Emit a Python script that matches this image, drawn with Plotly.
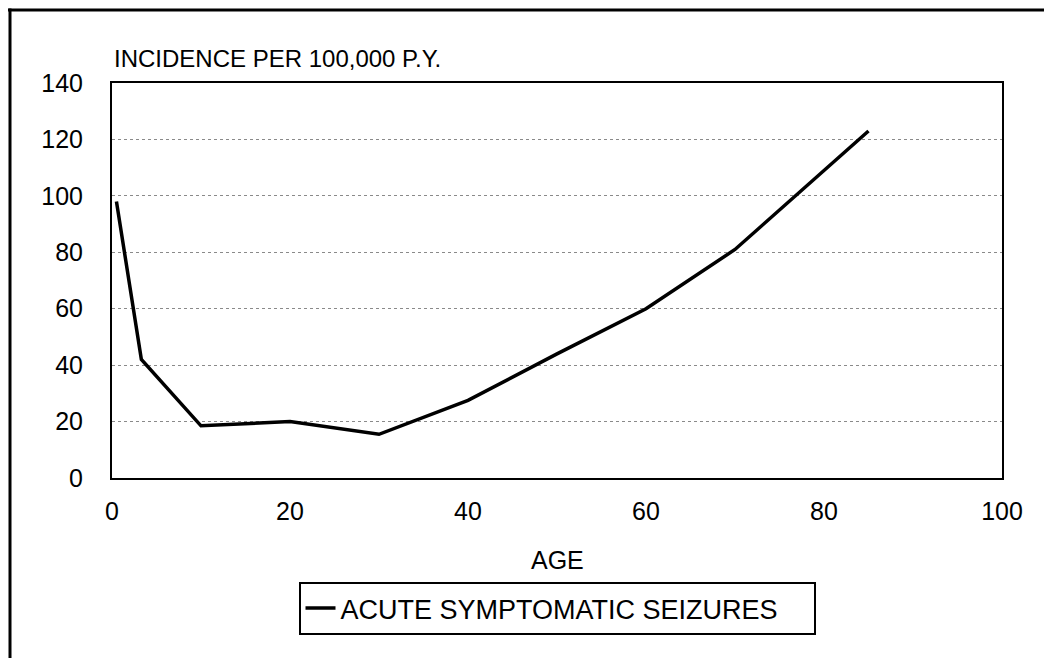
import plotly.graph_objects as go

ages = [0.5, 3.3, 10, 20, 30, 40, 50, 60, 70, 85]
incidence = [98, 42, 18.5, 20, 15.5, 27.5, 44, 60, 81, 123]
series_name = "ACUTE SYMPTOMATIC SEIZURES"
x_ticks = [0, 20, 40, 60, 80, 100]
y_ticks = [0, 20, 40, 60, 80, 100, 120, 140]

# page has an 8px body margin; work in page pixels and convert
OFF = 8
W, H = 1052 - OFF, 658 - OFF
L, R, T, B = 112, 1002, 83, 478  # plot area in page pixels
pw, ph = R - L, B - T

def px(x):
    return (x - L) / pw

def py(y):
    return (B - y) / ph

FONT = "Liberation Sans, Arial, sans-serif"

fig = go.Figure()
fig.add_trace(go.Scatter(
    x=ages, y=incidence, mode="lines", name=series_name,
    line=dict(color="black", width=3.5),
    showlegend=True,
))

fig.update_layout(
    width=W, height=H,
    margin=dict(l=L - OFF, r=1052 - R, t=T - OFF, b=658 - B),
    paper_bgcolor="white", plot_bgcolor="white",
    font=dict(family=FONT, color="black", size=24),
    xaxis=dict(
        range=[0, 100], tickvals=x_ticks, ticktext=[str(v) for v in x_ticks],
        showgrid=False, zeroline=False,
        showline=True, linecolor="black", linewidth=2, mirror=True,
        ticks="", tickfont=dict(size=25), ticklabelstandoff=10,
    ),
    yaxis=dict(
        range=[0, 140], tickvals=y_ticks, ticktext=[str(v) for v in y_ticks],
        showgrid=True, gridcolor="#8a8a8a", griddash="dot", gridwidth=1,
        zeroline=False,
        showline=True, linecolor="black", linewidth=2, mirror=True,
        ticks="", tickfont=dict(size=25), ticklabelstandoff=22,
    ),
    legend=dict(
        x=px(557), y=py(582), xanchor="center", yanchor="top",
        orientation="h", entrywidth=468, entrywidthmode="pixels",
        bordercolor="black", borderwidth=2, bgcolor="white",
        font=dict(size=27), itemwidth=30,
    ),
    annotations=[
        dict(text="INCIDENCE PER 100,000 P.Y.", xref="paper", yref="paper",
             x=0, y=py(58), xanchor="left", yanchor="middle",
             showarrow=False, font=dict(size=24)),
        dict(text="AGE", xref="paper", yref="paper",
             x=0.5, y=py(560), xanchor="center", yanchor="middle",
             showarrow=False, font=dict(size=25)),
    ],
    shapes=[
        dict(type="line", xref="paper", yref="paper",
             x0=px(8), x1=px(1060), y0=py(10), y1=py(10),
             line=dict(color="black", width=3)),
        dict(type="line", xref="paper", yref="paper",
             x0=px(10), x1=px(10), y0=py(8.5), y1=py(670),
             line=dict(color="black", width=3)),
    ],
)

fig.write_html("out.html")
